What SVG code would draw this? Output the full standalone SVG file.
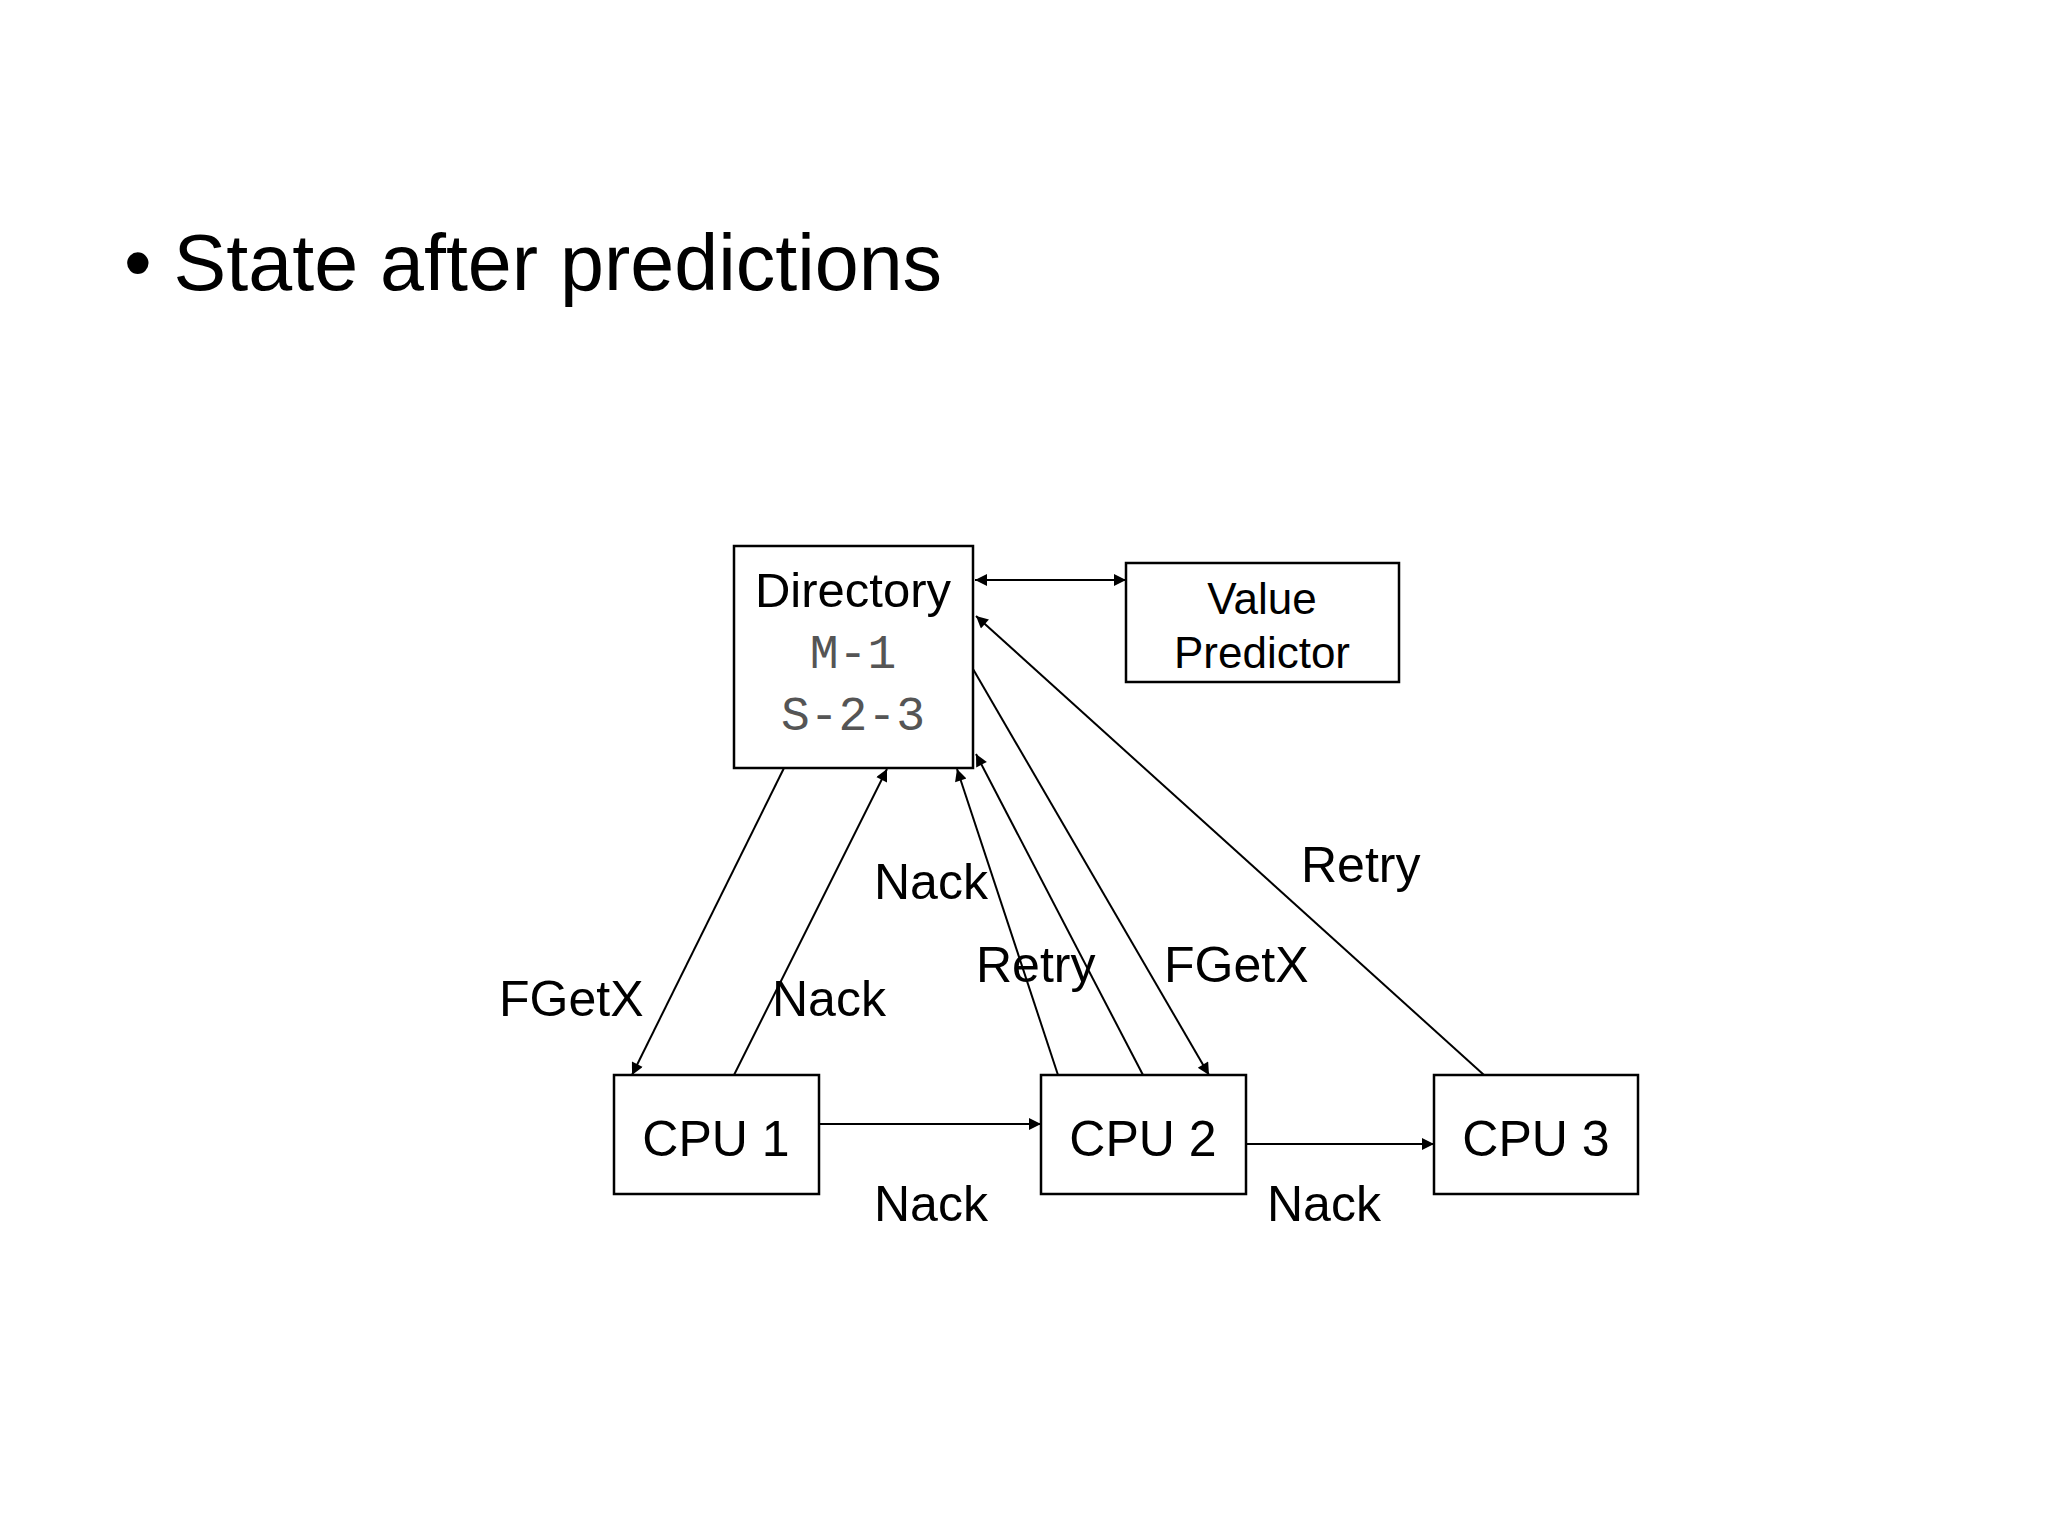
<svg xmlns="http://www.w3.org/2000/svg" width="2048" height="1536" viewBox="0 0 2048 1536">
<style>
.box{fill:#fff;stroke:#000;stroke-width:2.5}
.t{font-family:"Liberation Sans",Arial,sans-serif;fill:#000}
.m{font-family:"Liberation Mono","Courier New",monospace;fill:#555;font-size:48px;text-anchor:middle}
.c line{stroke:#000;stroke-width:2}
.lbl{font-family:"Liberation Sans",Arial,sans-serif;font-size:50px;fill:#000}
</style>
<defs>
<marker id="a" viewBox="0 0 10 10" refX="10" refY="5" markerWidth="16" markerHeight="12" markerUnits="userSpaceOnUse" orient="auto-start-reverse"><path d="M0,0L10,5L0,10z" fill="#000"/></marker>
</defs>
<rect width="2048" height="1536" fill="#fff"/>
<text class="t" x="124" y="290" font-size="79">• State after predictions</text>
<g id="directory"><rect class="box" x="734" y="546" width="239" height="222"/>
<text class="t" x="853" y="607" font-size="49" text-anchor="middle">Directory</text>
<text class="m" x="853" y="668">M-1</text><text class="m" x="853" y="730">S-2-3</text></g>
<g id="vp"><rect class="box" x="1126" y="563" width="273" height="119"/>
<text class="t" x="1262" y="614" font-size="44" text-anchor="middle">Value</text>
<text class="t" x="1262" y="668" font-size="44" text-anchor="middle">Predictor</text></g>
<g id="cpu1"><rect class="box" x="614" y="1075" width="205" height="119"/><text class="t" x="716" y="1156" font-size="50" text-anchor="middle">CPU 1</text></g>
<g id="cpu2"><rect class="box" x="1041" y="1075" width="205" height="119"/><text class="t" x="1143" y="1156" font-size="50" text-anchor="middle">CPU 2</text></g>
<g id="cpu3"><rect class="box" x="1434" y="1075" width="204" height="119"/><text class="t" x="1536" y="1156" font-size="50" text-anchor="middle">CPU 3</text></g>
<g class="c" id="connectors">
<line x1="975" y1="580" x2="1126" y2="580" marker-start="url(#a)" marker-end="url(#a)"/>
<line x1="784" y1="768" x2="632" y2="1075" marker-end="url(#a)"/>
<line x1="734" y1="1075" x2="887" y2="769" marker-end="url(#a)"/>
<line x1="1058" y1="1075" x2="957" y2="769" marker-end="url(#a)"/>
<line x1="1143" y1="1075" x2="976" y2="754" marker-end="url(#a)"/>
<line x1="973" y1="669" x2="1209" y2="1075" marker-end="url(#a)"/>
<line x1="1484" y1="1075" x2="976" y2="616" marker-end="url(#a)"/>
<line x1="819" y1="1124" x2="1041" y2="1124" marker-end="url(#a)"/>
<line x1="1246" y1="1144" x2="1434" y2="1144" marker-end="url(#a)"/>
</g>
<g id="labels">
<text class="lbl" x="874" y="899">Nack</text>
<text class="lbl" x="1301" y="882">Retry</text>
<text class="lbl" x="499" y="1016">FGetX</text>
<text class="lbl" x="772" y="1016">Nack</text>
<text class="lbl" x="976" y="982">Retry</text>
<text class="lbl" x="1164" y="982">FGetX</text>
<text class="lbl" x="874" y="1221">Nack</text>
<text class="lbl" x="1267" y="1221">Nack</text>
</g>
</svg>
